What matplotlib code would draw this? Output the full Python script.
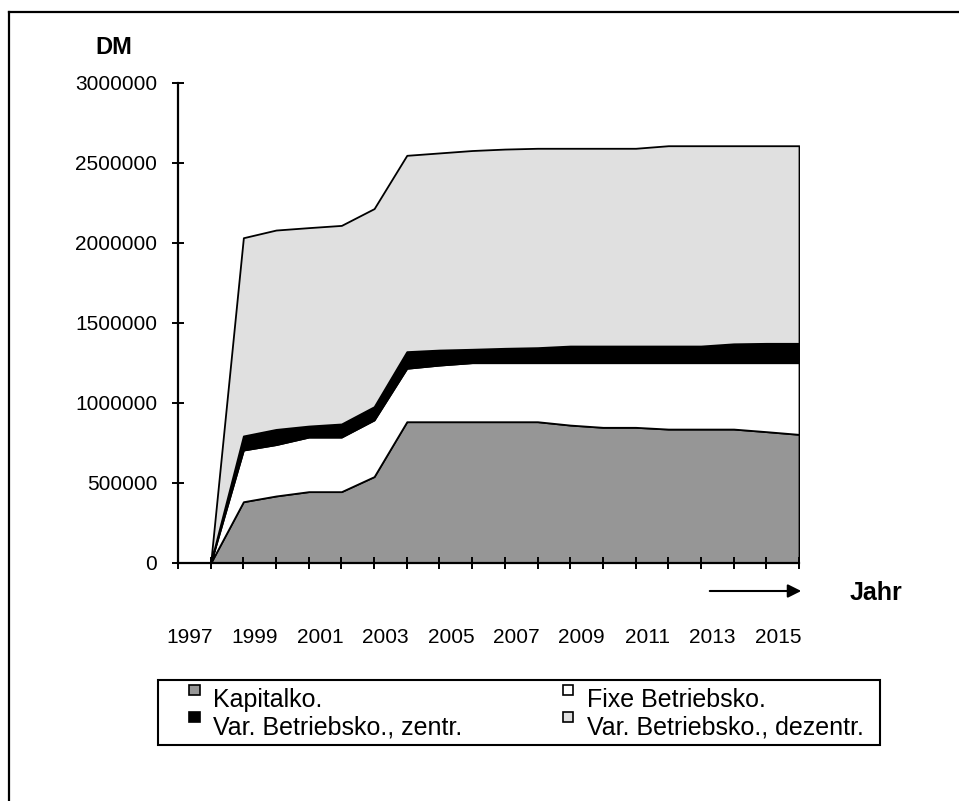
import numpy as np
import matplotlib
matplotlib.use("Agg")
import matplotlib.pyplot as plt
from matplotlib.patches import Patch, FancyArrowPatch, Rectangle
from matplotlib.lines import Line2D
from matplotlib.legend_handler import HandlerPatch

plt.rcParams['font.family'] = ['Liberation Sans', 'DejaVu Sans']

# ---- data (DM) ----
jahre = list(range(1997, 2016))            # categories
punkte = list(range(20))                   # category boundaries where values sit
kapital = [0, 0, 383000, 419000, 446000, 446000, 540000, 883000, 883000, 883000,
           883000, 883000, 862000, 848000, 848000, 837000, 837000, 837000, 821000, 804000]
fixe = [0, 0, 323000, 321000, 341000, 341000, 354000, 334000, 354000, 369000,
        369000, 369000, 390000, 404000, 404000, 415000, 415000, 415000, 431000, 448000]
var_zentr = [0, 0, 88000, 95000, 69000, 82000, 83000, 104000, 94000, 84000,
             90000, 94000, 104000, 104000, 104000, 104000, 104000, 118000, 121000, 121000]
var_dezentr = [0, 0, 1239000, 1246000, 1240000, 1241000, 1238000, 1227000, 1232000, 1242000,
               1245000, 1246000, 1236000, 1236000, 1236000, 1252000, 1252000, 1238000, 1235000, 1235000]
serien = ["Kapitalko.", "Fixe Betriebsko.", "Var. Betriebsko., zentr.", "Var. Betriebsko., dezentr."]
farben = ["#969696", "#ffffff", "#000000", "#e0e0e0"]
yticks = [0, 500000, 1000000, 1500000, 2000000, 2500000, 3000000]

W, H = 959, 801
fig = plt.figure(figsize=(W / 100, H / 100), dpi=100)

# outer frame (left and top visible)
fig.add_artist(Line2D([9 / W, 9 / W], [0, 1 - 12 / H], transform=fig.transFigure, color='black', lw=1.6))
fig.add_artist(Line2D([9 / W, 1], [1 - 12 / H, 1 - 12 / H], transform=fig.transFigure, color='black', lw=1.6))

ax = fig.add_axes([178 / W, 1 - 563 / H, 621 / W, 480 / H])
ax.stackplot(punkte, kapital, fixe, var_zentr, var_dezentr, colors=farben,
             edgecolor='black', linewidth=1.3, labels=serien)
ax.set_xlim(0, 19)
ax.set_ylim(0, 3000000)
for s in ['top', 'right']:
    ax.spines[s].set_visible(False)
for s in ['left', 'bottom']:
    ax.spines[s].set_linewidth(1.6)

ax.set_yticks(yticks)
ax.set_yticklabels([str(v) for v in yticks], fontsize=15)
ax.tick_params(axis='y', direction='inout', length=8, width=1.4, pad=11)

ax.set_xticks(punkte)
ax.set_xticklabels([])
ax.tick_params(axis='x', which='major', direction='inout', length=8.5, width=1.4)
lab_pos = [i + 0.5 - 0.15 for i in range(0, len(jahre), 2)]
ax.set_xticks(lab_pos, [str(j) for j in jahre[::2]], minor=True)
ax.tick_params(axis='x', which='minor', length=0, pad=47, labelsize=15)

fig.text(114 / W, 1 - 47 / H, "DM", ha='center', va='center', fontsize=17, fontweight='bold')
fig.text(876 / W, 1 - 593 / H, "Jahr", ha='center', va='center', fontsize=18, fontweight='bold')
fig.add_artist(FancyArrowPatch((707 / W, 1 - 591 / H), (804 / W, 1 - 591 / H), transform=fig.transFigure,
                               arrowstyle='-|>', mutation_scale=20, color='black', lw=1.5))

# legend
fig.add_artist(Rectangle((158 / W, 1 - 745 / H), 722 / W, 65 / H, transform=fig.transFigure,
                         facecolor='white', edgecolor='black', lw=1.5, zorder=1))


def quadrat(legend, orig_handle, xdescent, ydescent, width, height, fontsize):
    s = width
    return Rectangle((-xdescent, -ydescent + height - s * 0.55), s, s)


handles = [Patch(facecolor=c, edgecolor='black', linewidth=1.2) for c in farben]
order = [0, 2, 1, 3]
leg = fig.legend([handles[i] for i in order], [serien[i] for i in order], ncol=2,
                 loc='upper left', bbox_to_anchor=(189 / W, 1 - 688 / H),
                 borderaxespad=0, borderpad=0, fontsize=18, handlelength=0.42, handleheight=0.7,
                 handletextpad=0.55, labelspacing=0.12, columnspacing=4.0, frameon=False,
                 handler_map={Patch: HandlerPatch(patch_func=quadrat)})
leg.set_zorder(2)

fig.savefig("out.png", dpi=100)
